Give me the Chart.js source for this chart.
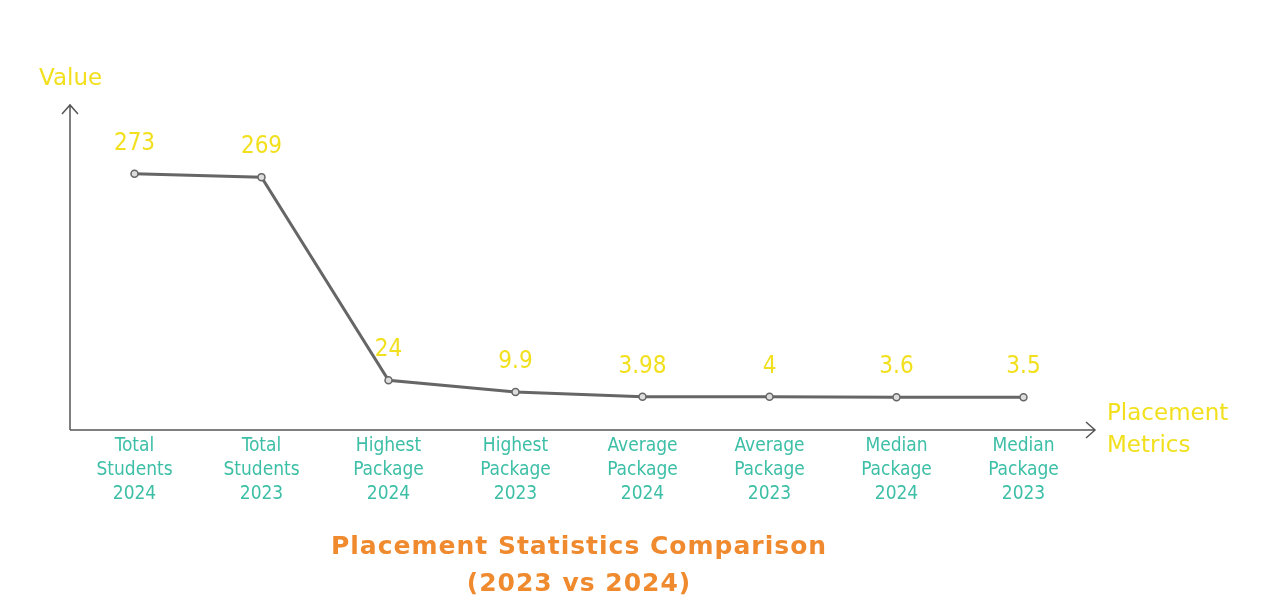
<!DOCTYPE html>
<html>
<head>
<meta charset="utf-8">
<script src="https://cdn.jsdelivr.net/npm/chart.js@4/dist/chart.umd.min.js"></script>
<style>
html,body{margin:0;padding:0;background:#fff;}
#wrap{width:1280px;height:607px;}
</style>
</head>
<body>
<div id="wrap"><canvas id="c" width="1280" height="607"></canvas></div>
<script>
const categories = [
  ["Total","Students","2024"],
  ["Total","Students","2023"],
  ["Highest","Package","2024"],
  ["Highest","Package","2023"],
  ["Average","Package","2024"],
  ["Average","Package","2023"],
  ["Median","Package","2024"],
  ["Median","Package","2023"]
];
const values = [273, 269, 24, 9.9, 3.98, 4, 3.6, 3.5];
const valueLabels = ["273","269","24","9.9","3.98","4","3.6","3.5"];
const yAxisTitle = "Value";
const xAxisTitle = ["Placement","Metrics"];
const chartTitle = ["Placement Statistics Comparison","(2023 vs 2024)"];

const YELLOW = "#f2e01e";
const TEAL = "#3cbfa6";
const ORANGE = "#f08a2e";
const FONT = "'DejaVu Sans', 'Liberation Sans', sans-serif";
const CFONT = "'DejaVu Sans Condensed', 'DejaVu Sans', sans-serif";

const decor = {
  id: "decor",
  afterDraw(chart) {
    const ctx = chart.ctx;
    const a = chart.chartArea;
    ctx.save();
    // axes with arrows
    ctx.strokeStyle = "#555";
    ctx.lineWidth = 1.5;
    const x0 = a.left - 1, y0 = a.bottom;
    const topY = a.top, rightX = a.right + 8;
    ctx.beginPath();
    ctx.moveTo(x0, y0); ctx.lineTo(x0, topY);
    ctx.moveTo(x0 - 8, topY + 9); ctx.lineTo(x0, topY); ctx.lineTo(x0 + 8, topY + 9);
    ctx.moveTo(x0, y0); ctx.lineTo(rightX, y0);
    ctx.moveTo(rightX - 9, y0 - 8); ctx.lineTo(rightX, y0); ctx.lineTo(rightX - 9, y0 + 8);
    ctx.stroke();

    // value labels
    const meta = chart.getDatasetMeta(0);
    ctx.fillStyle = YELLOW;
    ctx.font = "24px " + CFONT;
    ctx.textAlign = "center";
    ctx.textBaseline = "middle";
    meta.data.forEach((pt, i) => {
      ctx.fillText(valueLabels[i], pt.x, pt.y - 30);
    });

    // axis titles
    ctx.textAlign = "left";
    ctx.font = "23px " + FONT;
    ctx.fillText(yAxisTitle, 39, 79);
    ctx.fillText(xAxisTitle[0], 1107, 414);
    ctx.fillText(xAxisTitle[1], 1107, 446);

    // chart title
    const cx = (a.left + a.right) / 2;
    ctx.fillStyle = ORANGE;
    ctx.font = "bold 25px " + FONT;
    ctx.letterSpacing = "1px";
    ctx.textAlign = "center";
    ctx.fillText(chartTitle[0], cx, 547);
    ctx.fillText(chartTitle[1], cx, 584);
    ctx.restore();
  }
};

new Chart(document.getElementById("c"), {
  type: "line",
  data: {
    labels: categories,
    datasets: [{
      data: values,
      borderColor: "#666",
      borderWidth: 3,
      pointRadius: 3.5,
      pointBackgroundColor: "#ddd",
      pointBorderColor: "#666",
      pointBorderWidth: 1.5,
      tension: 0,
      fill: false
    }]
  },
  options: {
    responsive: false,
    animation: false,
    devicePixelRatio: 1,
    layout: { padding: { left: 0, right: 193, top: 105, bottom: 0 } },
    plugins: { legend: { display: false }, tooltip: { enabled: false }, title: { display: false } },
    scales: {
      x: {
        offset: true,
        grid: { display: false, drawTicks: false, tickLength: 0 },
        border: { display: false },
        ticks: {
          color: TEAL,
          padding: 4,
          maxRotation: 0,
          autoSkip: false,
          font: { family: CFONT, size: 19, lineHeight: 1.26 }
        },
        afterFit(scale) { scale.height = 177; }
      },
      y: {
        min: -36,
        max: 356,
        grid: { display: false, drawTicks: false },
        border: { display: false },
        ticks: { display: false },
        afterFit(scale) { scale.width = 71; }
      }
    }
  },
  plugins: [decor]
});
</script>
</body>
</html>
